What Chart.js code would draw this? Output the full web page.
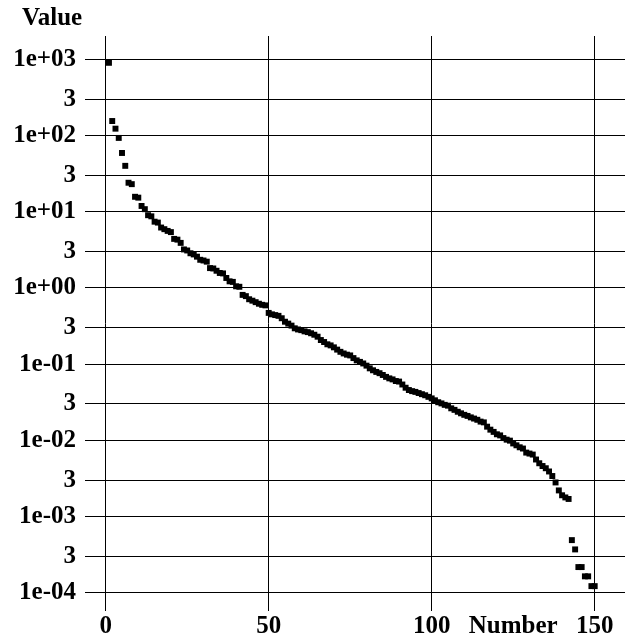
<!DOCTYPE html>
<html>
<head>
<meta charset="utf-8">
<script src="https://cdn.jsdelivr.net/npm/chart.js@4"></script>
<style>
    html, body { margin: 0; padding: 0; background: #fff; }
    #wrap { width: 625px; height: 638px; }
</style>
</head>
<body>
<div id="wrap"><canvas id="myChart" width="625" height="638"></canvas></div>
<script>
const values = [
    900, 155, 123, 93, 59, 40, 24, 23, 15.7, 15.3,
    11.9, 10.8, 9.0, 8.7, 7.4, 7.2, 6.2, 5.9, 5.6, 5.4,
    4.4, 4.3, 3.9, 3.2, 3.1, 2.85, 2.75, 2.57, 2.34, 2.29,
    2.21, 1.82, 1.80, 1.68, 1.57, 1.55, 1.35, 1.22, 1.20, 1.05,
    1.035, 0.81, 0.78, 0.71, 0.68, 0.65, 0.62, 0.60, 0.59, 0.47,
    0.45, 0.44, 0.43, 0.40, 0.36, 0.34, 0.32, 0.295, 0.285, 0.279,
    0.269, 0.263, 0.254, 0.243, 0.229, 0.207, 0.195, 0.182, 0.176, 0.166,
    0.155, 0.145, 0.138, 0.133, 0.130, 0.120, 0.112, 0.107, 0.102, 0.0955,
    0.088, 0.083, 0.079, 0.076, 0.072, 0.068, 0.065, 0.063, 0.060, 0.059,
    0.054, 0.049, 0.0457, 0.0442, 0.0432, 0.0417, 0.0403, 0.039, 0.0372, 0.0355,
    0.0335, 0.0316, 0.0305, 0.0292, 0.0285, 0.0263, 0.0251, 0.0237, 0.0226, 0.0216,
    0.0209, 0.020, 0.0193, 0.0186, 0.0176, 0.0172, 0.0151, 0.0138, 0.0129, 0.0120,
    0.0116, 0.0107, 0.0102, 0.0099, 0.0091, 0.0086, 0.0081, 0.0078, 0.0069, 0.0067,
    0.0065, 0.0056, 0.0050, 0.0046, 0.0043, 0.0039, 0.0034, 0.0028, 0.0022, 0.0019,
    0.00178, 0.0017, 0.00049, 0.00037, 0.000217, 0.000217, 0.000164, 0.000164, 0.000122, 0.000122,
];
const numbers = values.map((v, i) => i + 1);

const xTicks = [0, 50, 100, 150];
const yTicks = [1e-4, 3e-4, 1e-3, 3e-3, 1e-2, 3e-2, 1e-1, 3e-1, 1, 3, 10, 30, 100, 300, 1000];
const yTickLabels = ['1e-04', '3', '1e-03', '3', '1e-02', '3', '1e-01', '3', '1e+00', '3', '1e+01', '3', '1e+02', '3', '1e+03'];

const labelFont = { family: '"Liberation Serif", "Times New Roman", serif', size: 25, weight: 'bold' };

// axis names drawn as plain horizontal text
const axisNames = {
    id: 'axisNames',
    afterDraw(chart) {
        const ctx = chart.ctx;
        ctx.save();
        ctx.fillStyle = '#000';
        ctx.font = 'bold 25px "Liberation Serif", "Times New Roman", serif';
        ctx.textBaseline = 'alphabetic';
        ctx.textAlign = 'left';
        ctx.fillText('Value', 22, 25);
        ctx.textAlign = 'center';
        ctx.fillText('Number', chart.scales.x.getPixelForValue(125), 633);
        ctx.restore();
    },
};

// keep the plot box fixed: no extra room for overhanging labels
function noPadding(scale) {
    scale.paddingLeft = 0;
    scale.paddingRight = 0;
    scale.paddingTop = 0;
    scale.paddingBottom = 0;
}

const data = {
    datasets: [
        {
            label: 'Value',
            data: numbers.map((n, i) => ({ x: n, y: values[i] })),
            pointStyle: 'rect',
            pointRadius: 4.2,
            pointBorderWidth: 0,
            backgroundColor: '#000',
            borderColor: '#000',
            showLine: false,
        },
    ],
};

const config = {
    type: 'scatter',
    data: data,
    options: {
        responsive: false,
        animation: false,
        events: [],
        layout: {
            autoPadding: false,
            padding: { top: 36, left: 0, right: 0, bottom: 0 },
        },
        plugins: {
            legend: false,
            tooltip: { enabled: false },
        },
        scales: {
            x: {
                type: 'linear',
                min: -6.35,
                max: 159.3,
                afterBuildTicks: (scale) => {
                    scale.ticks = xTicks.map((v) => ({ value: v }));
                },
                afterFit: (scale) => {
                    scale.height = 27;
                    noPadding(scale);
                },
                border: { display: false },
                grid: {
                    color: '#000',
                    lineWidth: 1,
                    drawTicks: false,
                },
                ticks: {
                    color: '#000',
                    font: labelFont,
                    padding: 1,
                    maxRotation: 0,
                },
            },
            y: {
                type: 'logarithmic',
                min: Math.pow(10, -4.24),
                max: Math.pow(10, 3.306),
                afterBuildTicks: (scale) => {
                    scale.ticks = yTicks.map((v) => ({ value: v }));
                },
                afterFit: (scale) => {
                    scale.width = 85;
                    noPadding(scale);
                },
                border: { display: false },
                grid: {
                    color: '#000',
                    lineWidth: 1,
                    drawTicks: false,
                },
                ticks: {
                    color: '#000',
                    font: labelFont,
                    padding: 9,
                    callback: (value, index) => yTickLabels[index],
                },
            },
        },
    },
    plugins: [axisNames],
};

var myChart = new Chart(document.getElementById('myChart'), config);
</script>
</body>
</html>
